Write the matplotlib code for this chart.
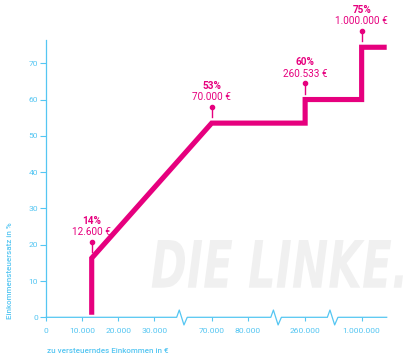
import matplotlib
matplotlib.use("Agg")
import matplotlib.pyplot as plt
import numpy as np
from matplotlib.textpath import TextPath
from matplotlib.patches import PathPatch
from matplotlib.transforms import Affine2D
from matplotlib.font_manager import FontProperties

# data
tick_values = [0, 10000, 20000, 30000, 70000, 80000, 260000, 1000000]
tick_labels = ['0', '10.000', '20.000', '30.000', '70.000', '80.000', '260.000', '1.000.000']
y_ticks = [0, 10, 20, 30, 40, 50, 60, 70]

line_x = [12600, 12600, 70000, 260533, 260533, 1000000, 1000000]
line_y = [0.7, 16.3, 53.5, 53.5, 60, 60, 74.4]

pin_x = [12600, 70000, 260533, 1000000]
pin_level = [16.3, 53.5, 60, 74.4]
pin_pct = ['14%', '53%', '60%', '75%']
pin_val = ['12.600 €', '70.000 €', '260.533 €', '1.000.000 €']

CYAN = '#55c6f2'
PINK = '#e6007e'

# broken x-axis: value -> position
anchor_vals = [0, 30000, 70000, 80000, 260000, 1000000]
anchor_pos = [0, 3.02, 4.62, 5.63, 7.23, 8.81]
breaks = [3.79, 6.42, 8.0]
XMAX = 9.51


def xpos(v):
    return np.interp(v, anchor_vals, anchor_pos)


fig = plt.figure(figsize=(4.14, 3.6), dpi=100)
W, H = 414, 360
ax = fig.add_axes([46.3 / W, 1 - 317.3 / H, (386.7 - 46.3) / W, (317.3 - 40) / H])
ax.patch.set_visible(False)
ax.set_xlim(0, XMAX)
ax.set_ylim(0, 76.4)

for s in ['top', 'right', 'bottom']:
    ax.spines[s].set_visible(False)
ax.spines['left'].set_color(CYAN)
ax.spines['left'].set_linewidth(0.9)

# x axis with break marks
ax_x = [0]
ax_y = [0]
for b in breaks:
    ax_x += [b - 0.148, b - 0.075, b + 0.056, b + 0.148]
    ax_y += [0, 2.0, -2.1, 0]
ax_x.append(XMAX)
ax_y.append(0)
ax.plot(ax_x, ax_y, color=CYAN, lw=0.9, clip_on=False, zorder=2)

font = 'Roboto'
ax.set_xticks(xpos(tick_values))
ax.set_xticklabels(tick_labels)
ax.set_yticks(y_ticks)
ax.tick_params(axis='x', colors=CYAN, length=3, width=0.8, pad=5, labelsize=6.1)
ax.tick_params(axis='y', colors=CYAN, length=4, width=0.8, pad=2, labelsize=6.1)
for lab in ax.get_xticklabels() + ax.get_yticklabels():
    lab.set_family(font)

ax.set_ylabel('Einkommensteuersatz in %', family=font, fontsize=5.8, color=CYAN,
              fontweight='medium')
ax.yaxis.set_label_coords(-33 / 340.4, (317.3 - 270.5) / 277.3)
fig.text(47 / W, 1 - 350.7 / H, 'zu versteuerndes Einkommen in €', family=font,
         fontsize=5.8, color=CYAN, fontweight='medium', ha='left', va='center')

# main line
lx = list(xpos(line_x)) + [XMAX]
ly = line_y + [line_y[-1]]
ax.plot(lx, ly, color=PINK, lw=3.7, solid_joinstyle='miter', solid_capstyle='butt',
        clip_on=False, zorder=3)

# pins and labels
for x, lev, pct, val in zip(pin_x, pin_level, pin_pct, pin_val):
    px = xpos(x)
    ax.plot([px, px], [lev + 1.6, lev + 4.5], color=PINK, lw=1.0, clip_on=False)
    ax.plot([px], [lev + 4.5], 'o', color=PINK, ms=3, clip_on=False)
    ax.text(px, lev + 7.1, val, ha='center', va='center', color=PINK,
            family=font, fontsize=7.2, clip_on=False)
    ax.text(px, lev + 10.3, pct, ha='center', va='center', color=PINK,
            family=font, fontsize=7.2, fontweight='semibold', clip_on=False)

# watermark
tp = TextPath((0, 0), 'DIE LINKE.', size=1,
              prop=FontProperties(family='DejaVu Sans', weight='bold', style='italic'))
bb = tp.get_extents()
x0, x1 = 151.7, 403.0
yb, yt = H - 287.7, H - 240.0
tr = (Affine2D().translate(-bb.x0, -bb.y0)
      .scale((x1 - x0) / bb.width, (yt - yb) / bb.height)
      .translate(x0, yb).scale(1 / W, 1 / H))
wm = PathPatch(tp, facecolor='#f0f0f0', edgecolor='none',
               transform=tr + fig.transFigure, zorder=-1)
fig.add_artist(wm)

fig.savefig('out.png', dpi=100)
